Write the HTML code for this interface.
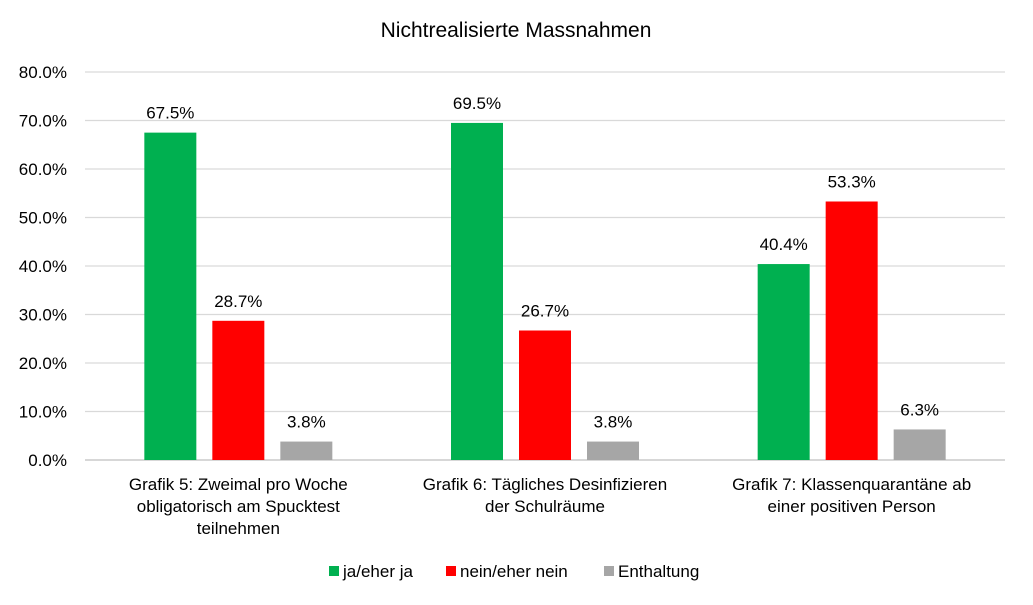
<!DOCTYPE html>
<html><head><meta charset="utf-8"><style>
body{margin:0;background:#fff;font-family:"Liberation Sans",Arial,sans-serif}
svg text{font-family:"Liberation Sans",Arial,sans-serif;fill:#000}
</style></head><body>
<svg id="chart" width="1033" height="600" xmlns="http://www.w3.org/2000/svg">
<rect width="1033" height="600" fill="#fff"/>
<text x="516" y="37" font-size="21" text-anchor="middle">Nichtrealisierte Massnahmen</text>
<g id="grid"></g><g id="bars"></g><g id="labels"></g>
<g font-size="17">
<rect x="329" y="566" width="10" height="10" fill="#00b050"/>
<text x="343" y="577">ja/eher ja</text>
<rect x="446" y="566" width="10" height="10" fill="#ff0000"/>
<text x="460" y="577">nein/eher nein</text>
<rect x="604" y="566" width="10" height="10" fill="#a6a6a6"/>
<text x="618" y="577">Enthaltung</text>
</g>
</svg>
<script>
const categories=[["Grafik 5: Zweimal pro Woche","obligatorisch am Spucktest","teilnehmen"],["Grafik 6: Tägliches Desinfizieren","der Schulräume"],["Grafik 7: Klassenquarantäne ab","einer positiven Person"]];
const seriesNames=["ja","nein","enthaltung"];
const seriesColors=["#00b050","#ff0000","#a6a6a6"];
const jaValues=[67.5,69.5,40.4];
const neinValues=[28.7,26.7,53.3];
const enthaltungValues=[3.8,3.8,6.3];
const yTicks=[0,10,20,30,40,50,60,70,80];
const series=[jaValues,neinValues,enthaltungValues];
const NS="http://www.w3.org/2000/svg";
const x0=85,x1=1005,yBase=460,yTop=72,yMax=80;
const y=v=>yBase-(v/yMax)*(yBase-yTop);
const groupW=(x1-x0)/categories.length;
const barW=52,step=68;
function mk(tag,attrs,parent){const e=document.createElementNS(NS,tag);for(const k in attrs)e.setAttribute(k,attrs[k]);parent.appendChild(e);return e;}
const grid=document.getElementById('grid'),bars=document.getElementById('bars'),labels=document.getElementById('labels');
yTicks.forEach(t=>{
 const l=mk('line',{x1:x0,x2:x1,y1:y(t),y2:y(t),stroke:t===0?'#bfbfbf':'#d9d9d9','stroke-width':1.3},grid);
 
 
 const tx=mk('text',{x:67,y:y(t)+6,'font-size':17,'text-anchor':'end'},grid);
 tx.textContent=t.toFixed(1)+'%';
 
 
});
categories.forEach((cat,i)=>{
 const c=x0+groupW*(i+0.5);
 series.forEach((s,j)=>{
  const bx=c+(j-1)*step-barW/2;
  const r=mk('rect',{x:bx,y:y(s[i]),width:barW,height:yBase-y(s[i]),fill:seriesColors[j]},bars);
  
  
  const t=mk('text',{x:bx+barW/2,y:y(s[i])-14,'font-size':17,'text-anchor':'middle'},labels);
  t.textContent=s[i].toFixed(1)+'%';
  
  
 });
 cat.forEach((line,k)=>{
  const t=mk('text',{x:c,y:490+k*22,'font-size':17,'text-anchor':'middle'},labels);
  t.textContent=line;
  
  
 });
});
</script>
</body></html>
